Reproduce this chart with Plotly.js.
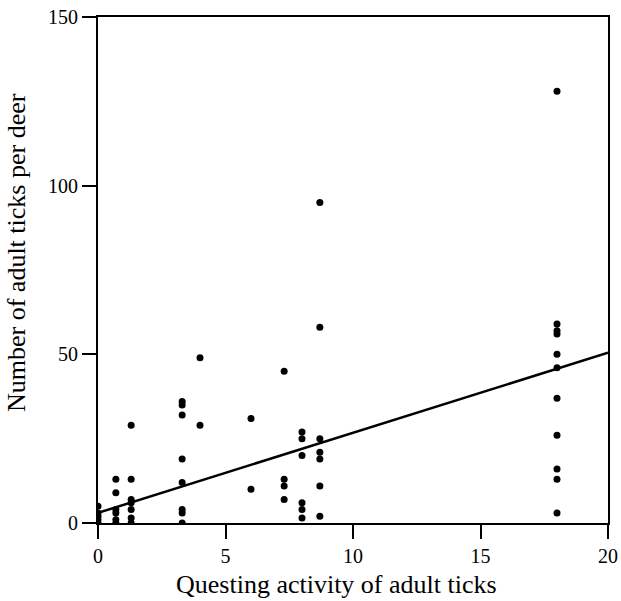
<!DOCTYPE html>
<html>
<head>
<meta charset="utf-8">
<script src="https://cdn.plot.ly/plotly-3.0.1.min.js"></script>
<style>html,body{margin:0;padding:0;background:#fff;}</style>
</head>
<body>
<div id="chart" style="width:621px;height:601px;"></div>
<script>
// Questing activity (x) and number of adult ticks per deer (y)
const questingX = [
  0,0,0,0,0,
  0.7,0.7,0.7,0.7,0.7,0.7,
  1.3,1.3,1.3,1.3,1.3,1.3,1.3,
  3.3,3.3,3.3,3.3,3.3,3.3,3.3,3.3,
  4,4,
  6,6,
  7.3,7.3,7.3,7.3,
  8,8,8,8,8,8,
  8.7,8.7,8.7,8.7,8.7,8.7,8.7,
  18,18,18,18,18,18,18,18,18,18,18
];
const ticksPerDeer = [
  5,3,2,1,0,
  13,9,4,3,1,0,
  29,13,7,6,4,1.5,0,
  36,35,32,19,12,4,3,0,
  49,29,
  31,10,
  45,13,11,7,
  27,25,20,6,4,1.5,
  95,58,25,21,19,11,2,
  128,59,57,56,50,46,37,26,16,13,3
];
// Fitted regression line end points
const fitX = [0, 20];
const fitY = [3, 50.5];
const xTicks = [0, 5, 10, 15, 20];
const yTicks = [0, 50, 100, 150];
const xTitle = 'Questing activity of adult ticks';
const yTitle = 'Number of adult ticks per deer';

const fam = 'Liberation Serif, Times New Roman, serif';
const tickFont = {family: fam, size: 20, color: '#000'};
const titleFont = {family: fam, size: 26, color: '#000'};

const axisCommon = {
  showgrid: false, zeroline: false,
  showline: true, linecolor: '#000', linewidth: 2, mirror: true,
  ticks: 'outside', ticklen: 14, tickwidth: 2, tickcolor: '#000',
  tickfont: tickFont
};

Plotly.newPlot('chart', [
  {x: questingX, y: ticksPerDeer, type: 'scatter', mode: 'markers',
   marker: {color: '#000', size: 7}},
  {x: fitX, y: fitY, type: 'scatter', mode: 'lines',
   line: {color: '#000', width: 2.5}}
], {
  width: 621, height: 601,
  margin: {l: 98, r: 13, t: 17, b: 78},
  paper_bgcolor: '#fff', plot_bgcolor: '#fff',
  showlegend: false,
  font: {family: fam, size: 20, color: '#000'},
  xaxis: Object.assign({range: [0, 20], tickvals: xTicks, ticktext: xTicks.map(String)}, axisCommon),
  yaxis: Object.assign({range: [0, 150], tickvals: yTicks, ticktext: yTicks.map(String)}, axisCommon),
  annotations: [
    {text: xTitle, xref: 'paper', yref: 'paper', x: 0.4667, y: -0.1215,
     xanchor: 'center', yanchor: 'middle', showarrow: false, font: titleFont, borderpad: 0},
    {text: yTitle, xref: 'paper', yref: 'paper', x: -0.1588, y: 0.5336, textangle: -90,
     xanchor: 'center', yanchor: 'middle', showarrow: false, font: titleFont, borderpad: 0}
  ]
}, {displayModeBar: false, staticPlot: true});
</script>
</body>
</html>
